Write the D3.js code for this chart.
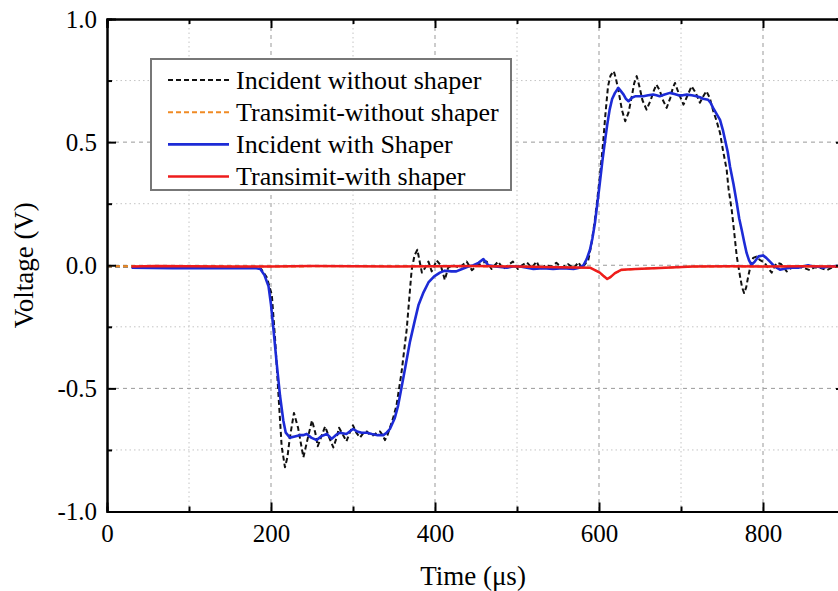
<!DOCTYPE html>
<html>
<head>
<meta charset="utf-8">
<script src="https://cdn.jsdelivr.net/npm/d3@7/dist/d3.min.js"></script>
<style>
    html, body { margin: 0; padding: 0; background: #fff; }
    #chart-area { width: 838px; height: 591px; overflow: hidden; }
    .axis path, .axis line { stroke: #000; }
    .axis text { font-family: "Liberation Serif", "Times New Roman", serif; font-size: 25px; fill: #000; }
    .axis-title { font-family: "Liberation Serif", "Times New Roman", serif; font-size: 27px; fill: #000; }
    .legend-label { font-family: "Liberation Serif", "Times New Roman", serif; font-size: 26px; fill: #000; }
</style>
</head>
<body>
<div id="chart-area"></div>
<script>
// tick values + labels
var xMajorTicks = [0, 200, 400, 600, 800];
var xMinorTicks = [100, 300, 500, 700];
var yMajorTicks = [-1.0, -0.5, 0.0, 0.5, 1.0];
var yTickLabels = ["-1.0", "-0.5", "0.0", "0.5", "1.0"];
var yMinorTicks = [-0.75, -0.25, 0.25, 0.75];

var seriesNames = ["Incident without shaper", "Transimit-without shaper", "Incident with Shaper", "Transimit-with shaper"];

// [time (us), voltage (V)]
var incidentNoShaper = [
    [0,-0.005],[50,-0.005],[100,-0.005],[150,-0.007],[180,-0.008],[188,-0.015],[195,-0.05],[201,-0.12],
    [205,-0.3],[209,-0.52],[213,-0.735],[217,-0.82],[220,-0.78],[223,-0.70],[228,-0.60],[233,-0.66],
    [239.5,-0.78],[245,-0.70],[250,-0.63],[254,-0.68],[257,-0.735],[262,-0.69],[266,-0.655],[271,-0.70],
    [276,-0.74],[280,-0.70],[283,-0.66],[288,-0.69],[292,-0.715],[296,-0.68],[300,-0.65],[304,-0.68],
    [308.5,-0.70],[313,-0.68],[317,-0.675],[321,-0.69],[325,-0.69],[329,-0.68],[333,-0.675],[336,-0.69],
    [339,-0.71],[342,-0.69],[345,-0.66],[349,-0.62],[353,-0.57],[359,-0.44],[365.5,-0.26],[371.5,-0.02],
    [375,0.04],[378.5,0.063],[381,0.02],[384,-0.03],[388,-0.01],[392,0.015],[396,-0.025],[402,0.02],
    [407,0.0],[412,-0.06],[416,-0.01],[422,0.0],[430,-0.01],[438.6,0.015],[445,-0.02],[452,0.0],
    [458,0.01],[463,0.015],[469,-0.015],[477,0.015],[483,-0.015],[489,0.0],[495,0.015],[501,-0.015],
    [506,0.0],[512,0.012],[518,-0.01],[524,0.015],[528,-0.015],[535,0.0],[542,-0.005],[548,0.01],
    [555,-0.01],[562,0.005],[569,-0.012],[575,0.012],[579,-0.012],[583,0.005],[587,0.022],[591,0.09],
    [595,0.185],[598,0.27],[601,0.36],[605,0.497],[608,0.62],[611,0.727],[614,0.77],[618,0.788],
    [620.5,0.76],[623.5,0.713],[628,0.63],[632,0.585],[636,0.62],[640,0.686],[643,0.74],[646,0.768],
    [649,0.73],[653,0.67],[658,0.632],[663,0.67],[667,0.71],[670,0.734],[674,0.71],[678,0.67],
    [682.5,0.639],[687,0.68],[690,0.72],[692.7,0.74],[697,0.70],[703,0.652],[708,0.69],[713,0.727],
    [718,0.70],[723,0.66],[727,0.685],[731,0.707],[735,0.68],[739,0.63],[743,0.59],[747.6,0.537],
    [751,0.47],[755.7,0.388],[758,0.31],[761.8,0.226],[765,0.13],[768,0.036],[772,-0.045],[774.5,-0.09],
    [777,-0.113],[779.5,-0.09],[782,-0.045],[785,0.0],[788,0.03],[792,0.035],[796,0.022],[802,0.01],
    [806,-0.01],[810.6,-0.03],[814,-0.005],[817,0.01],[822,0.005],[828.9,-0.025],[835,-0.01],[841,-0.005],
    [849,-0.01],[857,-0.02],[863,-0.008],[869.5,-0.01],[877.7,-0.02],[884,-0.01],[890,-0.006],[900,-0.01]
];

var transmitNoShaper = [
    [0,-0.004],[30,-0.004],[100,-0.004],[200,-0.005],[300,-0.004],[400,-0.004],[500,-0.005],[552,-0.008],
    [589,-0.01],[595,-0.02],[601,-0.03],[606,-0.045],[610,-0.054],[614,-0.048],[619.5,-0.032],[627.7,-0.02],
    [645,-0.015],[674,-0.011],[715,-0.005],[800,-0.005],[900,-0.005]
];

var incidentShaper = [
    [30,-0.01],[80,-0.012],[130,-0.012],[170,-0.012],[182,-0.012],[187,-0.015],[192,-0.04],[197,-0.086],
    [200,-0.16],[203,-0.26],[207,-0.40],[211,-0.53],[215,-0.63],[218,-0.68],[223,-0.70],[229,-0.695],
    [235,-0.69],[239,-0.69],[243.5,-0.685],[249,-0.70],[255.7,-0.71],[261,-0.695],[268,-0.685],[274,-0.705],
    [279,-0.69],[284,-0.68],[292,-0.685],[300,-0.665],[305,-0.675],[310.5,-0.68],[317,-0.68],[323,-0.685],
    [330,-0.69],[337,-0.69],[341,-0.68],[345,-0.665],[351,-0.62],[355,-0.57],[359,-0.50],[364,-0.41],
    [369.5,-0.31],[375,-0.23],[380,-0.16],[386,-0.11],[392,-0.07],[399,-0.045],[406,-0.03],[412,-0.022],
    [420,-0.025],[426,-0.025],[433,-0.015],[440.6,-0.005],[447,0.0],[453,0.01],[459,0.025],[465,0.0],
    [474,-0.005],[487.5,-0.01],[495,-0.005],[503.7,-0.005],[512,-0.01],[520,-0.015],[532,-0.012],[544,-0.015],
    [556,-0.012],[569,-0.015],[576,-0.01],[581,0.0],[585,0.025],[589,0.063],[592,0.11],[595,0.17],
    [598,0.25],[601,0.334],[604,0.42],[607,0.497],[610,0.57],[613,0.632],[616,0.675],[619.5,0.70],
    [623.5,0.72],[626,0.71],[630,0.693],[633,0.675],[636,0.666],[640,0.68],[644,0.686],[649,0.686],
    [654,0.686],[660,0.69],[666,0.693],[670,0.69],[674,0.686],[680,0.693],[686.6,0.70],[692,0.695],
    [697,0.69],[702,0.69],[707,0.693],[713,0.69],[719,0.686],[723,0.682],[727,0.676],[733,0.672],
    [736,0.66],[739,0.64],[743,0.617],[747.6,0.59],[751,0.55],[753.7,0.51],[757,0.46],[759.8,0.40],
    [764,0.33],[768,0.253],[771,0.19],[774,0.144],[777,0.095],[780,0.05],[783,0.02],[786,0.002],
    [790,0.015],[794.5,0.036],[800,0.04],[804,0.03],[808.5,0.015],[814,-0.005],[820.7,-0.018],[829,-0.012],
    [836,-0.01],[843,-0.01],[849,-0.005],[855,0.0],[861,-0.005],[866,-0.005],[873,-0.01],[880,-0.005],
    [890,-0.003],[900,-0.005]
];

var transmitShaper = [
    [30,-0.005],[60,-0.003],[100,-0.004],[150,-0.005],[200,-0.005],[250,-0.003],[300,-0.004],[350,-0.005],
    [400,-0.004],[450,-0.003],[500,-0.005],[552,-0.008],[589,-0.01],[595,-0.02],[601,-0.03],[606,-0.045],
    [610,-0.056],[614,-0.048],[619.5,-0.032],[627.7,-0.018],[645,-0.015],[674,-0.011],[715,-0.005],
    [760,-0.004],[800,-0.005],[850,-0.004],[900,-0.005]
];

var seriesData = [incidentNoShaper, transmitNoShaper, incidentShaper, transmitShaper];
var seriesColors = ["#111111", "#f08a24", "#1d2bd6", "#ee1c1c"];
var seriesDash = ["5,3", "5,3", null, null];
var seriesWidth = [2, 2, 2.6, 2.5];


VoltageChart = function(_parentElement) {
    this.parentElement = _parentElement;
    this.initVis();
}

VoltageChart.prototype.initVis = function() {
    var vis = this;

    vis.margin = { top: 19, right: -7, bottom: 79.5, left: 107 };
    vis.width = 838 - vis.margin.left - vis.margin.right;
    vis.height = 591 - vis.margin.top - vis.margin.bottom;

    vis.root = d3.select("#" + vis.parentElement)
        .append("svg")
        .attr("width", 838)
        .attr("height", 591);

    vis.svg = vis.root.append("g")
        .attr("transform", "translate(" + vis.margin.left + "," + vis.margin.top + ")");

    vis.x = d3.scaleLinear().domain([0, 900]).range([0, vis.width]);
    vis.y = d3.scaleLinear().domain([-1, 1]).range([vis.height, 0]);

    vis.svg.append("clipPath").attr("id", "plot-clip")
        .append("rect")
        .attr("width", vis.width)
        .attr("height", vis.height);

    vis.drawGrid();
    vis.updateVis();
    vis.drawAxes();
    vis.drawLegend();
}

VoltageChart.prototype.drawGrid = function() {
    var vis = this;
    var grid = vis.svg.append("g").attr("class", "grid");

    // minor = dotted, major = dashed
    grid.selectAll(".vminor").data(xMinorTicks).enter().append("line")
        .attr("x1", d => vis.x(d)).attr("x2", d => vis.x(d))
        .attr("y1", 0).attr("y2", vis.height)
        .attr("stroke", "#c4c4c4").attr("stroke-dasharray", "1.5,3");
    grid.selectAll(".vmajor").data(xMajorTicks.filter(d => d > 0)).enter().append("line")
        .attr("x1", d => vis.x(d)).attr("x2", d => vis.x(d))
        .attr("y1", 0).attr("y2", vis.height)
        .attr("stroke", "#999").attr("stroke-dasharray", "4,4");
    grid.selectAll(".hminor").data(yMinorTicks).enter().append("line")
        .attr("x1", 0).attr("x2", vis.width)
        .attr("y1", d => vis.y(d)).attr("y2", d => vis.y(d))
        .attr("stroke", "#c4c4c4").attr("stroke-dasharray", "1.5,3");
    grid.selectAll(".hmajor").data(yMajorTicks.filter(d => Math.abs(d) < 1)).enter().append("line")
        .attr("x1", 0).attr("x2", vis.width)
        .attr("y1", d => vis.y(d)).attr("y2", d => vis.y(d))
        .attr("stroke", "#999").attr("stroke-dasharray", "4,4");
}

VoltageChart.prototype.updateVis = function() {
    var vis = this;

    var line = d3.line()
        .x(d => vis.x(d[0]))
        .y(d => vis.y(d[1]));

    vis.svg.append("g")
        .attr("clip-path", "url(#plot-clip)")
        .selectAll(".series")
        .data(seriesData)
        .enter()
        .append("path")
        .attr("class", "series")
        .attr("fill", "none")
        .attr("stroke", (d, i) => seriesColors[i])
        .attr("stroke-width", (d, i) => seriesWidth[i])
        .attr("stroke-dasharray", (d, i) => seriesDash[i])
        .attr("stroke-linejoin", "round")
        .attr("d", line);
}

VoltageChart.prototype.drawAxes = function() {
    var vis = this;

    function styleAxis(g) {
        g.select(".domain").attr("stroke-width", 2);
        g.selectAll(".tick line").attr("stroke-width", 2);
    }

    // bottom
    vis.svg.append("g").attr("class", "axis")
        .attr("transform", "translate(0," + vis.height + ")")
        .call(d3.axisBottom(vis.x).tickValues(xMinorTicks).tickSize(-5).tickFormat(""))
        .call(styleAxis);
    vis.svg.append("g").attr("class", "axis x-axis")
        .attr("transform", "translate(0," + vis.height + ")")
        .call(d3.axisBottom(vis.x).tickValues(xMajorTicks).tickSizeInner(-9).tickSizeOuter(0).tickPadding(13))
        .call(styleAxis);

    // top
    vis.svg.append("g").attr("class", "axis")
        .call(d3.axisTop(vis.x).tickValues(xMinorTicks).tickSize(-5).tickFormat(""))
        .call(styleAxis);
    vis.svg.append("g").attr("class", "axis")
        .call(d3.axisTop(vis.x).tickValues(xMajorTicks).tickSize(-9).tickFormat(""))
        .call(styleAxis);

    // left
    vis.svg.append("g").attr("class", "axis")
        .call(d3.axisLeft(vis.y).tickValues(yMinorTicks).tickSize(-5).tickFormat(""))
        .call(styleAxis);
    vis.svg.append("g").attr("class", "axis y-axis")
        .call(d3.axisLeft(vis.y).tickValues(yMajorTicks).tickSizeInner(-9).tickSizeOuter(0).tickPadding(10)
            .tickFormat((d, i) => yTickLabels[i]))
        .call(styleAxis);

    // right (mostly cut off by the frame)
    vis.svg.append("g").attr("class", "axis")
        .attr("transform", "translate(" + vis.width + ",0)")
        .call(d3.axisRight(vis.y).tickValues(yMinorTicks).tickSize(-5).tickFormat(""))
        .call(styleAxis);
    vis.svg.append("g").attr("class", "axis")
        .attr("transform", "translate(" + vis.width + ",0)")
        .call(d3.axisRight(vis.y).tickValues(yMajorTicks).tickSize(-9).tickFormat(""))
        .call(styleAxis);

    // titles
    vis.root.append("text")
        .attr("class", "axis-title")
        .attr("x", 473)
        .attr("y", 585)
        .attr("text-anchor", "middle")
        .text("Time (\u03bcs)");

    vis.root.append("text")
        .attr("class", "axis-title")
        .attr("transform", "translate(33," + (vis.margin.top + vis.y(0)) + ") rotate(-90)")
        .attr("text-anchor", "middle")
        .text("Voltage (V)");
}

VoltageChart.prototype.drawLegend = function() {
    var vis = this;

    var legend = vis.root.append("g")
        .attr("class", "legend")
        .attr("transform", "translate(151,59)");

    legend.append("rect")
        .attr("width", 360)
        .attr("height", 131)
        .attr("fill", "#fff")
        .attr("stroke", "#777")
        .attr("stroke-width", 2);

    var rows = legend.selectAll(".legend-row")
        .data(seriesNames)
        .enter()
        .append("g")
        .attr("class", "legend-row")
        .attr("transform", (d, i) => "translate(0," + (21 + i * 32.2) + ")");

    rows.append("line")
        .attr("x1", 17).attr("x2", 78)
        .attr("stroke", (d, i) => seriesColors[i])
        .attr("stroke-width", (d, i) => seriesWidth[i])
        .attr("stroke-dasharray", (d, i) => seriesDash[i]);

    rows.append("text")
        .attr("class", "legend-label")
        .attr("x", 85)
        .attr("y", 8.5)
        .text(d => d);
}

new VoltageChart("chart-area");
</script>
</body>
</html>
